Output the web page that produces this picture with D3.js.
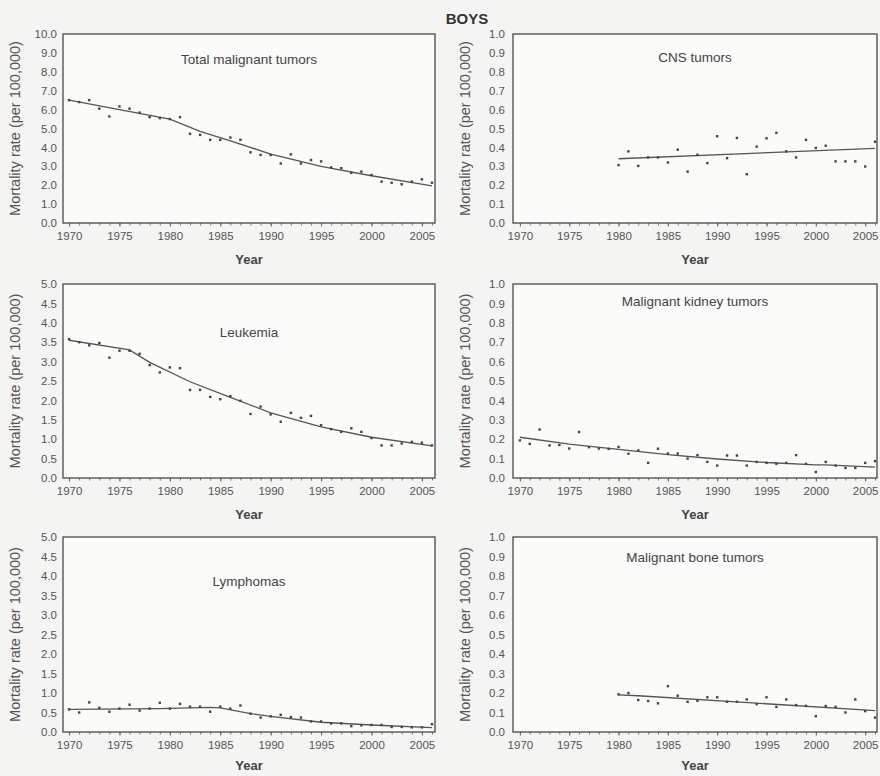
<!DOCTYPE html>
<html>
<head>
<meta charset="utf-8">
<script src="https://cdn.jsdelivr.net/npm/d3@7"></script>
<style>
  body { margin: 0; background: #f4f4f2; }
  svg { display: block; font-family: "Liberation Sans", Arial, sans-serif; }
</style>
</head>
<body>
<div id="chart"></div>
<script>
var width = 880;
var height = 776;

// years 1970-2006 and 1980-2006
var years = d3.range(1970, 2007);
var years80 = d3.range(1980, 2007);

var totalRates = [6.5, 6.4, 6.5, 6.05, 5.64, 6.17, 6.05, 5.84, 5.6, 5.55, 5.5, 5.6, 4.72, 4.66, 4.4, 4.4, 4.52, 4.4,
  3.74, 3.6, 3.6, 3.15, 3.63, 3.15, 3.33, 3.26, 2.94, 2.9, 2.65, 2.72, 2.54, 2.19, 2.13, 2.05, 2.19, 2.31, 2.13];
var cnsRates = [0.306, 0.379, 0.302, 0.347, 0.347, 0.32, 0.388, 0.272, 0.361, 0.317, 0.459, 0.343, 0.45, 0.258,
  0.404, 0.448, 0.477, 0.379, 0.347, 0.44, 0.397, 0.409, 0.326, 0.326, 0.326, 0.299, 0.43];
var leukemiaRates = [3.58, 3.5, 3.42, 3.48, 3.1, 3.28, 3.28, 3.2, 2.91, 2.72, 2.85, 2.83, 2.27, 2.27, 2.09, 2.03, 2.11,
  1.99, 1.65, 1.84, 1.64, 1.45, 1.68, 1.55, 1.6, 1.36, 1.26, 1.19, 1.28, 1.19, 1.03, 0.84, 0.84, 0.89, 0.93, 0.91, 0.84];
var kidneyRates = [0.194, 0.176, 0.25, 0.168, 0.17, 0.152, 0.237, 0.159, 0.152, 0.15, 0.16, 0.125, 0.142, 0.078, 0.151,
  0.126, 0.126, 0.1, 0.118, 0.083, 0.064, 0.116, 0.116, 0.064, 0.083, 0.078, 0.073, 0.078, 0.118, 0.073, 0.031, 0.083,
  0.064, 0.052, 0.052, 0.078, 0.087];
var lymphomaRates = [0.58, 0.5, 0.76, 0.62, 0.52, 0.6, 0.7, 0.55, 0.6, 0.75, 0.6, 0.72, 0.65, 0.65, 0.52, 0.65, 0.6,
  0.68, 0.47, 0.37, 0.4, 0.44, 0.38, 0.37, 0.27, 0.27, 0.22, 0.22, 0.15, 0.17, 0.18, 0.18, 0.13, 0.13, 0.12, 0.12, 0.2];
var boneRates = [0.193, 0.2, 0.164, 0.159, 0.147, 0.235, 0.186, 0.155, 0.16, 0.178, 0.178, 0.155, 0.155, 0.167, 0.143,
  0.178, 0.129, 0.167, 0.138, 0.134, 0.081, 0.133, 0.129, 0.1, 0.167, 0.107, 0.074];

// fitted trend lines (knots)
var totalFitYears = [1970, 1975, 1980, 1983, 1986, 1990, 1995, 2000, 2006];
var totalFit = [6.5, 6.0, 5.5, 4.85, 4.35, 3.65, 3.0, 2.5, 1.97];
var cnsFitYears = [1980, 2006];
var cnsFit = [0.34, 0.395];
var leukemiaFitYears = [1970, 1976, 1978, 1982, 1986, 1990, 1995, 2000, 2006];
var leukemiaFit = [3.55, 3.3, 2.98, 2.48, 2.08, 1.68, 1.32, 1.05, 0.83];
var kidneyFitYears = [1970, 1975, 1980, 1985, 1990, 1995, 2000, 2001, 2006];
var kidneyFit = [0.21, 0.175, 0.148, 0.12, 0.098, 0.08, 0.068, 0.068, 0.056];
var lymphomaFitYears = [1970, 1979, 1984, 1985, 1988, 1990, 1995, 2000, 2006];
var lymphomaFit = [0.58, 0.6, 0.63, 0.62, 0.47, 0.4, 0.25, 0.18, 0.11];
var boneFitYears = [1980, 1982, 2006];
var boneFit = [0.19, 0.186, 0.11];

var xTicks = [1970, 1975, 1980, 1985, 1990, 1995, 2000, 2005];

var panels = [
  { title: "Total malignant tumors", col: 0, row: 0, ymax: 10, ystep: 1, titleDy: 30,
    years: years, rates: totalRates, fitYears: totalFitYears, fit: totalFit },
  { title: "CNS tumors", col: 1, row: 0, ymax: 1, ystep: 0.1, titleDy: 28,
    years: years80, rates: cnsRates, fitYears: cnsFitYears, fit: cnsFit },
  { title: "Leukemia", col: 0, row: 1, ymax: 5, ystep: 0.5, titleDy: 53,
    years: years, rates: leukemiaRates, fitYears: leukemiaFitYears, fit: leukemiaFit },
  { title: "Malignant kidney tumors", col: 1, row: 1, ymax: 1, ystep: 0.1, titleDy: 22,
    years: years, rates: kidneyRates, fitYears: kidneyFitYears, fit: kidneyFit },
  { title: "Lymphomas", col: 0, row: 2, ymax: 5, ystep: 0.5, titleDy: 49,
    years: years, rates: lymphomaRates, fitYears: lymphomaFitYears, fit: lymphomaFit },
  { title: "Malignant bone tumors", col: 1, row: 2, ymax: 1, ystep: 0.1, titleDy: 25,
    years: years80, rates: boneRates, fitYears: boneFitYears, fit: boneFit }
];

var cols = [
  { x0: 63, x1: 435, domain: [1969.4, 2006.3], ytitle: 15 },
  { x0: 513, x1: 877, domain: [1969.3, 2006.2], ytitle: 465 }
];
var rows = [
  { top: 34, bottom: 223, yearDy: 41 },
  { top: 284, bottom: 478, yearDy: 41 },
  { top: 537, bottom: 732, yearDy: 38 }
];

var svg = d3.select("#chart")
  .append("svg")
  .attr("width", width)
  .attr("height", height);

svg.append("rect")
  .attr("width", width)
  .attr("height", height)
  .attr("fill", "#f4f4f2");

svg.append("text")
  .attr("x", 467)
  .attr("y", 24)
  .attr("text-anchor", "middle")
  .attr("font-size", "15px")
  .attr("font-weight", "bold")
  .attr("fill", "#333")
  .text("BOYS");

panels.forEach(function(p) {
  var c = cols[p.col], r = rows[p.row];

  var xScale = d3.scaleLinear().domain(c.domain).range([c.x0, c.x1]);
  var yScale = d3.scaleLinear().domain([0, p.ymax]).range([r.bottom, r.top]);

  var g = svg.append("g");

  g.append("rect")
    .attr("x", c.x0)
    .attr("y", r.top)
    .attr("width", c.x1 - c.x0)
    .attr("height", r.bottom - r.top)
    .attr("fill", "#fbfbfa");

  // y axis labels
  var yTicks = d3.range(0, p.ymax + p.ystep / 2, p.ystep);
  var axisy = d3.axisLeft(yScale)
    .tickValues(yTicks)
    .tickSize(0)
    .tickPadding(p.col == 0 ? 6 : 8)
    .tickFormat(d3.format(".1f"));
  g.append("g")
    .attr("transform", "translate(" + c.x0 + ",0)")
    .call(axisy)
    .call(function(s) {
      s.select(".domain").remove();
      s.selectAll("text").attr("font-size", "11.5px").attr("fill", "#555")
        .attr("font-family", "Liberation Sans, Arial, sans-serif");
    });

  // x axis: minor ticks each year
  var axisMinor = d3.axisBottom(xScale)
    .tickValues(years)
    .tickSize(2.5)
    .tickFormat("");
  g.append("g")
    .attr("transform", "translate(0," + r.bottom + ")")
    .call(axisMinor)
    .call(function(s) {
      s.select(".domain").remove();
      s.selectAll("line").attr("stroke", "#777");
    });

  var axisx = d3.axisBottom(xScale)
    .tickValues(xTicks)
    .tickSize(3.5)
    .tickPadding(5)
    .tickFormat(d3.format("d"));
  g.append("g")
    .attr("transform", "translate(0," + r.bottom + ")")
    .call(axisx)
    .call(function(s) {
      s.select(".domain").remove();
      s.selectAll("line").attr("stroke", "#666");
      s.selectAll("text").attr("font-size", "11.5px").attr("fill", "#555")
        .attr("font-family", "Liberation Sans, Arial, sans-serif");
    });

  // frame
  g.append("rect")
    .attr("x", c.x0)
    .attr("y", r.top)
    .attr("width", c.x1 - c.x0)
    .attr("height", r.bottom - r.top)
    .attr("fill", "none")
    .attr("stroke", "#555")
    .attr("stroke-width", 1.4);

  // axis titles
  g.append("text")
    .attr("x", (c.x0 + c.x1) / 2)
    .attr("y", r.bottom + r.yearDy)
    .attr("text-anchor", "middle")
    .attr("font-size", "13px")
    .attr("font-weight", "bold")
    .attr("fill", "#444")
    .text("Year");

  g.append("text")
    .attr("transform", "translate(" + c.ytitle + "," + (r.top + r.bottom) / 2 + ") rotate(-90)")
    .attr("dy", "0.35em")
    .attr("text-anchor", "middle")
    .attr("font-size", "14.5px")
    .attr("fill", "#555")
    .text("Mortality rate (per 100,000)");

  g.append("text")
    .attr("x", (c.x0 + c.x1) / 2)
    .attr("y", r.top + p.titleDy)
    .attr("text-anchor", "middle")
    .attr("font-size", "13.5px")
    .attr("fill", "#444")
    .text(p.title);

  // fitted line
  var fitData = p.fitYears.map(function(yr, i) { return { year: yr, v: p.fit[i] }; });
  g.append("path")
    .datum(fitData)
    .attr("d", d3.line()
      .x(function(d) { return xScale(d.year); })
      .y(function(d) { return yScale(d.v); }))
    .attr("fill", "none")
    .attr("stroke", "#555")
    .attr("stroke-width", 1.3);

  // observed points
  var pts = p.years.map(function(yr, i) { return { year: yr, v: p.rates[i] }; });
  g.selectAll(".pt")
    .data(pts)
    .enter()
    .append("rect")
    .attr("class", "pt")
    .attr("x", function(d) { return xScale(d.year) - 1.2; })
    .attr("y", function(d) { return yScale(d.v) - 1.2; })
    .attr("width", 2.4)
    .attr("height", 2.4)
    .attr("fill", "#444");
});
</script>
</body>
</html>
